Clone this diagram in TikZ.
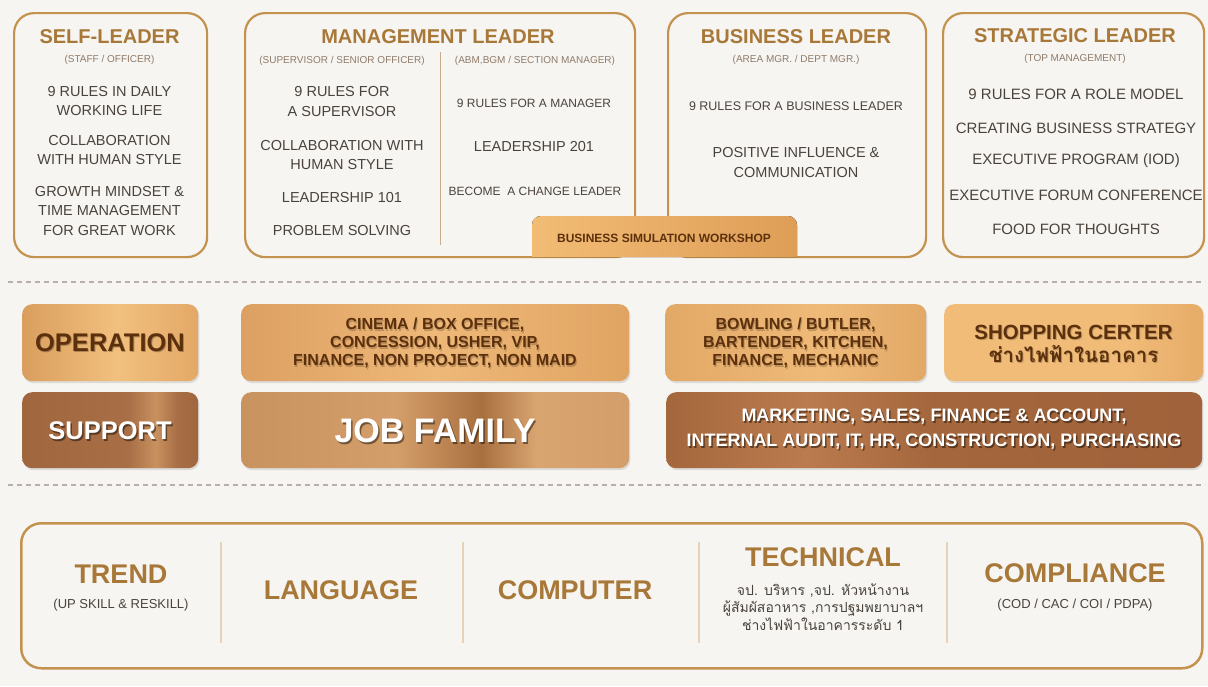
\documentclass[tikz,border=0pt]{standalone}
\usepackage{fontspec}
\setmainfont{Liberation Sans}
\newfontfamily\thai[Script=Thai]{Loma}
\usetikzlibrary{shadows,calc}

\definecolor{bg}{HTML}{F7F5F2}
\definecolor{gold}{HTML}{C4924F}
\definecolor{titlec}{HTML}{A87838}
\definecolor{bodyc}{HTML}{4A433C}
\definecolor{subc}{HTML}{8E7B69}
\definecolor{dashc}{HTML}{B8B0A8}
\definecolor{divc}{HTML}{E6D2B6}
\definecolor{mdivc}{HTML}{C9AE8C}
\definecolor{darkt}{HTML}{5C300C}
\definecolor{tabL}{HTML}{F2BC74}
\definecolor{tabR}{HTML}{DE9E58}
\definecolor{opA}{HTML}{D99E5E}
\definecolor{opB}{HTML}{F2C07E}
\definecolor{opC}{HTML}{E3A866}
\definecolor{ciA}{HTML}{DCA062}
\definecolor{ciB}{HTML}{EEB878}
\definecolor{ciC}{HTML}{E0A462}
\definecolor{boA}{HTML}{E2A866}
\definecolor{boB}{HTML}{EFBA78}
\definecolor{shA}{HTML}{F0BC78}
\definecolor{shB}{HTML}{E6AC68}
\definecolor{suA}{HTML}{A0673F}
\definecolor{suB}{HTML}{C8915F}
\definecolor{suC}{HTML}{A86E46}
\definecolor{jfA}{HTML}{C8935F}
\definecolor{jfB}{HTML}{D49E6A}
\definecolor{jfC}{HTML}{A8703F}
\definecolor{jfD}{HTML}{D8A470}
\definecolor{mkA}{HTML}{A4663C}
\definecolor{mkB}{HTML}{BA7C4E}
\definecolor{mkC}{HTML}{A0623A}

\pgfdeclarehorizontalshading{opsh}{100bp}{color(0bp)=(opA); color(25bp)=(opA); color(52bp)=(opB); color(75bp)=(opC); color(100bp)=(opC)}
\pgfdeclarehorizontalshading{cish}{100bp}{color(0bp)=(ciA); color(25bp)=(ciA); color(50bp)=(ciB); color(75bp)=(ciC); color(100bp)=(ciC)}
\pgfdeclarehorizontalshading{bosh}{100bp}{color(0bp)=(boA); color(25bp)=(boA); color(55bp)=(boB); color(75bp)=(boA); color(100bp)=(boA)}
\pgfdeclarehorizontalshading{shsh}{100bp}{color(0bp)=(shA); color(25bp)=(shA); color(60bp)=(shA); color(75bp)=(shB); color(100bp)=(shB)}
\pgfdeclarehorizontalshading{sush}{100bp}{color(0bp)=(suA); color(25bp)=(suA); color(55bp)=(suC); color(63bp)=(suB); color(69bp)=(suC); color(75bp)=(suA); color(100bp)=(suA)}
\pgfdeclarehorizontalshading{jfsh}{100bp}{color(0bp)=(jfA); color(25bp)=(jfA); color(45bp)=(jfB); color(56bp)=(jfC); color(63bp)=(jfD); color(75bp)=(jfB); color(100bp)=(jfB)}
\pgfdeclarehorizontalshading{mksh}{100bp}{color(0bp)=(mkA); color(25bp)=(mkA); color(38bp)=(mkB); color(50bp)=(mkA); color(75bp)=(mkC); color(100bp)=(mkC)}

\tikzset{
 lbox/.style={draw=gold, line width=2.2pt, rounded corners=20pt, fill=bg, anchor=north west, inner sep=0},
 ttl/.style={text=titlec, font=\bfseries\fontsize{20}{24}\selectfont, inner sep=0},
 subt/.style={text=subc, font=\fontsize{10}{12}\selectfont, inner sep=0},
 itm/.style={text=bodyc, font=\fontsize{14.5}{19.5}\selectfont, align=center, inner sep=0},
 itms/.style={text=bodyc, font=\fontsize{12}{15}\selectfont, align=center, inner sep=0},
 mbox/.style={rounded corners=10pt, anchor=north west, inner sep=0, drop shadow={shadow xshift=1.2pt, shadow yshift=-2pt, opacity=0.22}},
 dtxt/.style={text=darkt, font=\bfseries\fontsize{16}{18}\selectfont, align=center, inner sep=0},
 dbig/.style={text=darkt, font=\bfseries\fontsize{25.5}{28}\selectfont, inner sep=0},
 wtxt/.style={text=white, font=\bfseries\fontsize{18}{25}\selectfont, align=center, inner sep=0},
 wbig/.style={text=white, font=\bfseries\fontsize{25.5}{28}\selectfont, inner sep=0},
 btl/.style={text=titlec, font=\bfseries\fontsize{27}{30}\selectfont, inner sep=0},
 bsub/.style={text=bodyc, font=\fontsize{13}{16}\selectfont, inner sep=0},
 thaitx/.style={text=bodyc, font=\thai\fontsize{14}{17.5}\selectfont, align=center, inner sep=0},
 vdiv/.style={draw=divc, line width=1.2pt},
 mdiv/.style={draw=mdivc, line width=1pt},
 dashline/.style={draw=dashc, line width=1.3pt, dash pattern=on 5pt off 4pt},
}

\begin{document}
\begin{tikzpicture}[x=1pt,y=-1pt]
\fill[bg] (0,0) rectangle (1208,686);
\useasboundingbox (0,0) rectangle (1208,686);

% ---------- top leader boxes ----------
\node[lbox, minimum width=193pt, minimum height=244pt] (self) at (13,12) {};
\node[lbox, minimum width=390pt, minimum height=244pt] (mgmt) at (244,12) {};
\node[lbox, minimum width=258pt, minimum height=244pt] (bus) at (667,12) {};
\node[lbox, minimum width=261pt, minimum height=244pt] (strat) at (942,12) {};

% business simulation tab
\fill[left color=tabL, right color=tabR] (532,257) -- (532,225) arc[start angle=180, end angle=270, radius=9] -- (788,216) arc[start angle=270, end angle=360, radius=9] -- (797,257) -- cycle;
\node[text=darkt, font=\bfseries\fontsize{12}{14}\selectfont, inner sep=0] (sim) at (664,238) {BUSINESS SIMULATION WORKSHOP};

% self leader
\node[ttl] (slT) at (109.5,37) {SELF-LEADER};
\node[subt] (slS) at (109.5,60) {(STAFF / OFFICER)};
\node[itm] (sl1) at (109.5,101) {9 RULES IN DAILY\\WORKING LIFE};
\node[itm] (sl2) at (109.5,150) {COLLABORATION\\WITH HUMAN STYLE};
\node[itm] (sl3) at (109.5,211) {GROWTH MINDSET \&\\TIME MANAGEMENT\\FOR GREAT WORK};

% management leader
\node[ttl] (mlT) at (438,37) {MANAGEMENT LEADER};
\node[subt] (mlS1) at (342,61) {(SUPERVISOR / SENIOR OFFICER)};
\node[subt] (mlS2) at (535,61) {(ABM,BGM / SECTION MANAGER)};
\coordinate (mdTop) at (440,52);
\coordinate (mdBot) at (440,245);
\draw[mdiv] (mdTop) -- (mdBot);
\node[itm] (ml1) at (342,101.5) {9 RULES FOR\\A SUPERVISOR};
\node[itm] (ml2) at (342,155) {COLLABORATION WITH\\HUMAN STYLE};
\node[itm] (ml3) at (342,198) {LEADERSHIP 101};
\node[itm] (ml4) at (342,231) {PROBLEM SOLVING};
\node[itms] (mr1) at (534,103) {9 RULES FOR A MANAGER};
\node[itm] (mr2) at (534,147) {LEADERSHIP 201};
\node[itms] (mr3) at (535,191) {BECOME\ \ A CHANGE LEADER};

% business leader
\node[ttl] (blT) at (796,37) {BUSINESS LEADER};
\node[subt] (blS) at (796,60) {(AREA MGR. / DEPT MGR.)};
\node[itms, font=\fontsize{12.5}{15}\selectfont] (bl1) at (796,106) {9 RULES FOR A BUSINESS LEADER};
\node[itm] (bl2) at (796,162.5) {POSITIVE INFLUENCE \&\\COMMUNICATION};

% strategic leader
\node[ttl] (stT) at (1075,36) {STRATEGIC LEADER};
\node[subt] (stS) at (1075,59) {(TOP MANAGEMENT)};
\node[itm, font=\fontsize{15}{19}\selectfont] (st1) at (1076,94) {9 RULES FOR A ROLE MODEL};
\node[itm, font=\fontsize{15}{19}\selectfont] (st2) at (1076,128) {CREATING BUSINESS STRATEGY};
\node[itm, font=\fontsize{15}{19}\selectfont] (st3) at (1076,161) {EXECUTIVE PROGRAM (IOD)};
\node[itm, font=\fontsize{15}{19}\selectfont] (st4) at (1076,195) {EXECUTIVE FORUM CONFERENCE};
\node[itm, font=\fontsize{15}{19}\selectfont] (st5) at (1076,229) {FOOD FOR THOUGHTS};

% separators
\coordinate (d1a) at (8,282);
\coordinate (d1b) at (1205,282);
\coordinate (d2a) at (8,485);
\coordinate (d2b) at (1205,485);
\draw[dashline] (d1a) -- (d1b);
\draw[dashline] (d2a) -- (d2b);

% ---------- job family ----------
\node[mbox, shading=opsh, minimum width=176pt, minimum height=77pt] (op) at (22,304) {};
\node[mbox, shading=cish, minimum width=388pt, minimum height=77pt] (cin) at (241,304) {};
\node[mbox, shading=bosh, minimum width=261pt, minimum height=77pt] (bow) at (665,304) {};
\node[mbox, shading=shsh, minimum width=259pt, minimum height=77pt] (shop) at (944,304) {};
\node[mbox, shading=sush, minimum width=176pt, minimum height=76pt] (sup) at (22,392) {};
\node[mbox, shading=jfsh, minimum width=388pt, minimum height=76pt] (jf) at (241,392) {};
\node[mbox, shading=mksh, minimum width=536pt, minimum height=76pt] (mk) at (666,392) {};

\node[dbig, text=black, opacity=0.25] (opTs) at (111,344) {OPERATION};
\node[dbig] (opT) at (110,342.5) {OPERATION};
\node[dtxt, text=black, opacity=0.2] (cinTs) at (436,344.5) {CINEMA / BOX OFFICE,\\CONCESSION, USHER, VIP,\\FINANCE, NON PROJECT, NON MAID};
\node[dtxt] (cinT) at (435,343) {CINEMA / BOX OFFICE,\\CONCESSION, USHER, VIP,\\FINANCE, NON PROJECT, NON MAID};
\node[dtxt, text=black, opacity=0.2] (bowTs) at (796.5,344.5) {BOWLING / BUTLER,\\BARTENDER, KITCHEN,\\FINANCE, MECHANIC};
\node[dtxt] (bowT) at (795.5,343) {BOWLING / BUTLER,\\BARTENDER, KITCHEN,\\FINANCE, MECHANIC};
\node[dtxt, text=black, opacity=0.2, font=\bfseries\fontsize{20.5}{23}\selectfont] (shopTs) at (1074.5,345) {SHOPPING CERTER\\{\thai ช่างไฟฟ้าในอาคาร}};
\node[dtxt, font=\bfseries\fontsize{20.5}{23}\selectfont] (shopT) at (1073.5,343.5) {SHOPPING CERTER\\{\thai ช่างไฟฟ้าในอาคาร}};

\node[wbig, text=black, opacity=0.45] (supTs) at (111.5,433) {SUPPORT};
\node[wbig] (supT) at (110,431) {SUPPORT};
\node[wbig, text=black, opacity=0.45, font=\bfseries\fontsize{34}{36}\selectfont] (jfTs) at (436.5,433) {JOB FAMILY};
\node[wbig, font=\bfseries\fontsize{34}{36}\selectfont] (jfT) at (435,431) {JOB FAMILY};
\node[wtxt, text=black, opacity=0.45] (mkTs) at (935.5,431) {MARKETING, SALES, FINANCE \& ACCOUNT,\\INTERNAL AUDIT, IT, HR, CONSTRUCTION, PURCHASING};
\node[wtxt] (mkT) at (934,429) {MARKETING, SALES, FINANCE \& ACCOUNT,\\INTERNAL AUDIT, IT, HR, CONSTRUCTION, PURCHASING};

% ---------- bottom skills ----------
\node[lbox, line width=2.5pt, minimum width=1181pt, minimum height=145pt] (skills) at (20,522) {};
\foreach \x/\n in {221/a,463/b,699/c,947/d}{
  \coordinate (v\n t) at (\x,542);
  \coordinate (v\n b) at (\x,643);
  \draw[vdiv] (v\n t) -- (v\n b);
}
\node[btl] (trT) at (121,574) {TREND};
\node[bsub] (trS) at (121,605) {(UP SKILL \& RESKILL)};
\node[btl] (lgT) at (341,590) {LANGUAGE};
\node[btl] (cpT) at (575,590) {COMPUTER};
\node[btl] (tcT) at (823,557) {TECHNICAL};
\node[thaitx] (tcS) at (823,607) {จป. บริหาร ,จป. หัวหน้างาน\\ผู้สัมผัสอาหาร ,การปฐมพยาบาลฯ\\ช่างไฟฟ้าในอาคารระดับ 1};
\node[btl] (coT) at (1075,573) {COMPLIANCE};
\node[bsub] (coS) at (1075,605) {(COD / CAC / COI / PDPA)};
\end{tikzpicture}
\end{document}
